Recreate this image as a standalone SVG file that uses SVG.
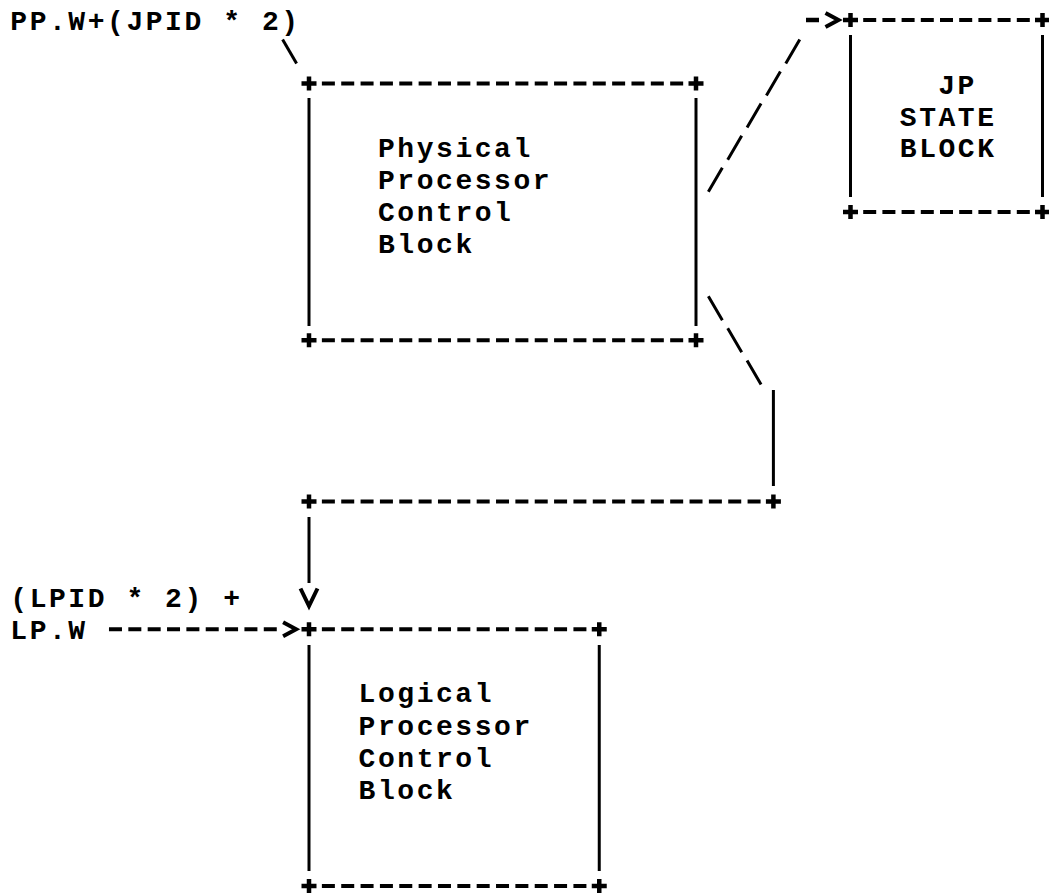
<svg xmlns="http://www.w3.org/2000/svg" xmlns:xlink="http://www.w3.org/1999/xlink" width="1049" height="896" viewBox="0 0 1049 896">
<style>
  .t { font-family: "Liberation Mono", "DejaVu Sans Mono", monospace; font-size: 28px; font-weight: bold; letter-spacing: 2.55px; fill: #000; }
  .dash { stroke: #000; stroke-width: 4; fill: none; stroke-dasharray: 0 3.175 13 3.175; }
  .dashjp { stroke: #000; stroke-width: 4; fill: none; stroke-dasharray: 0 3.1 13 3.1; }
  .bar { stroke: #000; stroke-width: 3; fill: none; }
  .plus { stroke: #000; stroke-width: 4.5; fill: none; }
  .slash { stroke: #000; stroke-width: 3; fill: none; }
  .head { stroke: #000; stroke-width: 4; fill: none; stroke-linejoin: miter; }
</style>
<defs>
  <path id="plus" d="M-7.5,0H7.5M0,-7V7"/>
  <path id="arrowR" d="M-6.5,-7L6.5,0L-6.5,7"/>
  <path id="arrowD" d="M-8.5,-8.5L0,9L8.5,-8.5"/>
</defs>
<rect width="1049" height="896" fill="#fff"/>

<g id="label-pp-w">
  <text class="t" x="10.3" y="29.5">PP.W+(JPID * 2)</text>
</g>

<g id="physical-processor-control-block">
  <line class="dash" x1="318.7" y1="83.5" x2="686.35" y2="83.5"/>
  <line class="dash" x1="318.7" y1="340.3" x2="686.35" y2="340.3"/>
  <line class="bar" x1="309" y1="98" x2="309" y2="326"/>
  <line class="bar" x1="696" y1="98" x2="696" y2="326"/>
  <use xlink:href="#plus" class="plus" x="309" y="83.5"/>
  <use xlink:href="#plus" class="plus" x="696" y="83.5"/>
  <use xlink:href="#plus" class="plus" x="309" y="340.3"/>
  <use xlink:href="#plus" class="plus" x="696" y="340.3"/>
  <text class="t" x="378" y="156.7">Physical</text>
  <text class="t" x="378" y="188.8">Processor</text>
  <text class="t" x="378" y="220.9">Control</text>
  <text class="t" x="378" y="253">Block</text>
</g>

<g id="jp-state-block">
  <line class="dashjp" x1="860.1" y1="20" x2="1032.9" y2="20"/>
  <line class="dashjp" x1="860.1" y1="212" x2="1032.9" y2="212"/>
  <line class="bar" x1="850.5" y1="35" x2="850.5" y2="197"/>
  <line class="bar" x1="1042.5" y1="35" x2="1042.5" y2="197"/>
  <use xlink:href="#plus" class="plus" x="850.5" y="20"/>
  <use xlink:href="#plus" class="plus" x="1042.5" y="20"/>
  <use xlink:href="#plus" class="plus" x="850.5" y="212"/>
  <use xlink:href="#plus" class="plus" x="1042.5" y="212"/>
  <text class="t" x="938.2" y="94">JP</text>
  <text class="t" x="899.8" y="125.5">STATE</text>
  <text class="t" x="899.8" y="157">BLOCK</text>
</g>

<g id="label-lpid">
  <text class="t" x="10.3" y="606.5">(LPID * 2) +</text>
</g>
<g id="label-lp-w">
  <text class="t" x="10.3" y="638.5">LP.W</text>
</g>

<g id="logical-processor-control-block">
  <line class="dash" x1="318.7" y1="629.2" x2="589.6" y2="629.2"/>
  <line class="dash" x1="318.7" y1="886" x2="589.6" y2="886"/>
  <line class="bar" x1="309" y1="645" x2="309" y2="871"/>
  <line class="bar" x1="599.25" y1="645" x2="599.25" y2="871"/>
  <use xlink:href="#plus" class="plus" x="309" y="629.2"/>
  <use xlink:href="#plus" class="plus" x="599.25" y="629.2"/>
  <use xlink:href="#plus" class="plus" x="309" y="886"/>
  <use xlink:href="#plus" class="plus" x="599.25" y="886"/>
  <text class="t" x="358.6" y="702.4">Logical</text>
  <text class="t" x="358.6" y="734.5">Processor</text>
  <text class="t" x="358.6" y="766.6">Control</text>
  <text class="t" x="358.6" y="798.7">Block</text>
</g>

<g id="connectors">
  <!-- PP.W label to physical block -->
  <line class="slash" x1="282.6" y1="39.4" x2="296.6" y2="63.4"/>
  <!-- physical block to JP state block -->
  <path class="slash" d="M799.75,39.4L785.75,63.4M780.4,71.5L766.4,95.5M761.05,103.6L747.05,127.6M741.7,135.7L727.7,159.7M722.35,167.8L708.35,191.8"/>
  <line class="plus" x1="806" y1="20" x2="819" y2="20"/>
  <use xlink:href="#arrowR" class="head" x="832" y="20"/>
  <!-- physical block to logical block -->
  <path class="slash" d="M708.35,296.2L722.35,320.2M727.7,328.3L741.7,352.3M747.05,360.4L761.05,384.4"/>
  <line class="bar" x1="773.4" y1="390" x2="773.4" y2="486"/>
  <use xlink:href="#plus" class="plus" x="773.4" y="501.5"/>
  <line class="dash" x1="318.7" y1="501.5" x2="763.75" y2="501.5"/>
  <use xlink:href="#plus" class="plus" x="309" y="501.5"/>
  <line class="bar" x1="309" y1="517" x2="309" y2="583"/>
  <use xlink:href="#arrowD" class="head" x="309" y="597"/>
  <!-- LP.W to logical block -->
  <line class="dash" x1="105.8" y1="629.2" x2="280" y2="629.2"/>
  <use xlink:href="#arrowR" class="head" x="289.6" y="629.2"/>
</g>
</svg>
